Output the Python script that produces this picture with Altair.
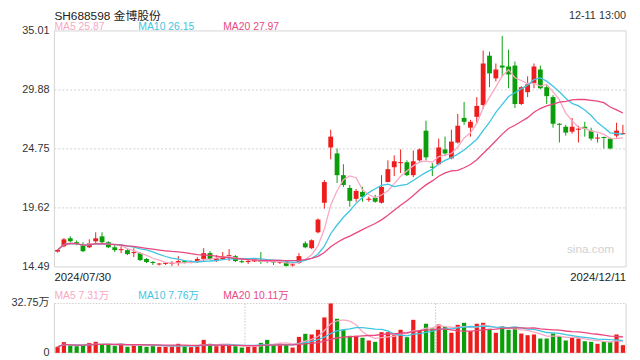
import altair as alt
import pandas as pd
import numpy as np

# ---------------- data ----------------
opens = [15.82, 16.29, 16.98, 16.64, 16.38, 16.20, 16.72, 17.15, 16.64, 16.20,
         15.95, 15.95, 15.69, 15.69, 15.18, 14.88, 14.70, 14.75, 14.75, 14.83,
         15.00, 14.88, 14.92, 15.18, 15.69, 15.00, 15.18, 15.43, 15.43, 14.95,
         14.92, 14.97, 15.09, 14.97, 15.00, 14.85, 14.92, 14.62, 14.83, 16.55,
         16.12, 17.50, 20.07, 24.88, 24.36, 22.47, 21.36, 20.41, 21.01, 20.33,
         20.50, 20.07, 21.87, 23.16, 23.51, 23.59, 22.47, 23.76, 26.34, 23.20,
         23.42, 24.71, 23.93, 25.31, 27.45, 26.60, 27.54, 28.57, 32.86, 30.89,
         32.00, 31.92, 32.00, 28.66, 29.69, 30.46, 31.66, 30.12, 29.26, 26.94,
         26.68, 26.25, 26.42, 26.68, 26.34, 25.65, 25.78, 25.65, 25.91, 26.03]
closes = [15.97, 16.89, 16.72, 16.46, 15.86, 16.55, 16.98, 16.64, 16.20, 15.95,
          16.04, 15.61, 15.78, 15.09, 14.92, 14.83, 14.75, 14.80, 14.80, 15.00,
          14.88, 14.95, 15.18, 15.69, 15.18, 15.26, 15.43, 15.50, 15.00, 14.90,
          14.97, 15.13, 14.92, 14.92, 14.88, 14.90, 14.58, 14.68, 15.43, 16.20,
          16.81, 18.61, 21.87, 25.82, 22.47, 21.62, 20.24, 21.10, 20.59, 20.41,
          20.16, 21.45, 22.99, 23.68, 23.59, 22.47, 23.68, 24.71, 24.02, 23.12,
          24.88, 24.36, 25.39, 26.77, 27.11, 27.11, 28.49, 32.18, 31.32, 31.66,
          31.83, 31.23, 28.66, 30.12, 30.37, 31.92, 30.03, 29.34, 26.94, 26.85,
          26.17, 26.68, 26.50, 26.51, 25.65, 25.74, 25.70, 24.79, 26.34, 26.10]
highs = [16.05, 17.00, 17.15, 16.80, 16.64, 16.89, 17.50, 17.50, 16.72, 16.38,
         16.29, 16.04, 16.12, 15.78, 15.26, 15.00, 14.83, 14.92, 15.00, 15.43,
         15.05, 15.05, 15.35, 16.12, 15.86, 15.52, 15.78, 16.04, 15.52, 15.09,
         15.26, 15.26, 15.78, 15.09, 15.05, 15.05, 15.00, 14.75, 15.69, 16.72,
         16.89, 18.70, 22.05, 26.42, 24.79, 23.42, 21.62, 21.27, 21.45, 20.59,
         20.76, 22.47, 23.76, 24.19, 24.71, 23.76, 24.62, 24.79, 27.20, 23.51,
         25.65, 25.82, 26.42, 27.80, 28.83, 27.28, 29.26, 33.30, 33.21, 32.18,
         34.58, 33.38, 32.35, 30.20, 31.06, 32.18, 32.00, 30.29, 29.43, 27.00,
         26.85, 27.45, 26.77, 27.11, 26.60, 26.08, 25.82, 25.74, 27.03, 26.85]
lows = [15.75, 16.20, 16.64, 16.38, 15.78, 16.12, 16.46, 16.55, 16.12, 15.78,
        15.69, 15.52, 15.35, 15.00, 14.83, 14.66, 14.62, 14.66, 14.58, 14.60,
        14.80, 14.80, 14.83, 15.00, 15.09, 14.92, 15.09, 15.00, 14.92, 14.83,
        14.75, 14.92, 14.75, 14.83, 14.66, 14.75, 14.53, 14.53, 14.75, 16.12,
        16.04, 17.41, 19.56, 23.85, 21.79, 21.45, 19.73, 20.16, 20.16, 20.16,
        20.07, 20.00, 21.87, 22.39, 22.65, 22.39, 22.30, 23.59, 23.76, 22.39,
        23.33, 24.11, 23.85, 25.22, 26.85, 25.82, 27.03, 28.23, 30.12, 30.63,
        31.06, 30.03, 28.31, 28.57, 29.26, 30.03, 29.95, 28.66, 26.60, 25.31,
        25.91, 26.08, 25.31, 25.82, 25.48, 25.31, 24.79, 24.71, 25.74, 25.99]
volumes = [4.0, 7.1, 4.9, 4.4, 5.1, 6.6, 7.3, 5.5, 5.5, 4.6,
           6.0, 4.0, 5.3, 5.1, 4.0, 5.3, 4.0, 4.0, 4.6, 6.0,
           4.4, 3.8, 4.4, 8.6, 6.0, 4.4, 5.1, 5.1, 4.4, 3.5,
           4.0, 4.4, 6.6, 8.6, 5.5, 6.6, 5.5, 3.5, 10.6, 12.6,
           12.2, 15.3, 23.5, 32.75, 22.6, 15.0, 11.3, 11.3, 10.0, 8.2,
           7.3, 13.7, 13.7, 11.7, 15.3, 10.4, 21.9, 15.0, 19.3, 16.2,
           18.8, 17.3, 13.3, 18.6, 19.9, 14.4, 19.3, 19.9, 15.9, 13.3,
           17.7, 15.3, 17.0, 12.8, 11.7, 12.2, 9.5, 9.5, 12.8, 11.1,
           8.2, 10.0, 9.5, 7.7, 7.3, 6.0, 7.3, 7.3, 12.2, 5.1]

price_ticks = [35.01, 29.88, 24.75, 19.62, 14.49]
grid_ticks = [29.88, 24.75, 19.62]
vol_ticks = [32.75, 0.0]
vol_tick_labels = ["32.75万", "0"]
date_labels = ["2024/07/30", "2024/12/11"]
title_text = "SH688598 金博股份"
stamp_text = "12-11 13:00"
ma_names = ["MA5", "MA10", "MA20"]
ma_price_vals = ["25.87", "26.15", "27.97"]
ma_vol_vals = ["7.31万", "7.76万", "10.11万"]

# ---------------- layout (page has an 8px margin) ----------------
OFF = 8
def px(v):
    return v - OFF

PL, PR = px(55), px(634)
PT, PB = px(29), px(268)
VT, VB = px(305), px(355)

RED = "#ee1d1d"
GREEN = "#0a9e0a"
MA_COLORS = ["#f9a8c4", "#3fc5e2", "#e9487f"]
FONT = "Liberation Sans, Noto Sans CJK SC"

n = len(closes)
df = pd.DataFrame(dict(i=np.arange(n), open=opens, close=closes, high=highs, low=lows, vol=volumes))
df["dir"] = np.where(df["close"] >= df["open"], "up", "down")
df["bbot"] = df[["open", "close"]].min(axis=1)
df["btop"] = np.maximum(df[["open", "close"]].max(axis=1), df["bbot"] + 0.09)
df["xa"] = df["i"] - 0.38
df["xb"] = df["i"] + 0.38
df["va"] = df["i"] - 0.33
df["vb"] = df["i"] + 0.33
df["zero"] = 0.0
for w, name in zip((5, 10, 20), ma_names):
    df[name] = df["close"].rolling(w, min_periods=1).mean()
    df["V" + name] = df["vol"].rolling(w, min_periods=1).mean()

xs = alt.Scale(domain=[-0.5, n - 0.5], range=[PL, PR])
ps = alt.Scale(domain=[price_ticks[-1], price_ticks[0]], range=[PB, PT])
vs = alt.Scale(domain=[0, vol_ticks[0]], range=[VB, VT])
dir_color = alt.Color("dir:N", scale=alt.Scale(domain=["up", "down"], range=[RED, GREEN]), legend=None)

one = pd.DataFrame({"a": [0]})

# frames
main_box = alt.Chart(one).mark_rect(fill=None, stroke="#d4d4d4", strokeWidth=1).encode(
    x=alt.value(PL), x2=alt.value(PR), y=alt.value(PT), y2=alt.value(PB))
grid = alt.Chart(pd.DataFrame({"v": grid_ticks})).mark_rule(
    color="#dcdcdc", strokeDash=[2, 2], strokeWidth=1.2).encode(
    y=alt.Y("v:Q", scale=ps, axis=None), x=alt.value(PL), x2=alt.value(PR))

vol_top = alt.Chart(one).mark_rule(color="#d0d0d0", strokeDash=[1.5, 1.5], strokeWidth=1.2).encode(
    x=alt.value(PL), x2=alt.value(PR), y=alt.value(VT))
vol_left = alt.Chart(one).mark_rule(color="#d0d0d0", strokeWidth=1).encode(
    x=alt.value(PL), y=alt.value(VT), y2=alt.value(VB))
vol_right = alt.Chart(one).mark_rule(color="#d0d0d0", strokeWidth=1).encode(
    x=alt.value(PR), y=alt.value(VT), y2=alt.value(VB))
vol_bottom = alt.Chart(one).mark_rule(color="#d0d0d0", strokeWidth=1).encode(
    x=alt.value(PL), x2=alt.value(PR), y=alt.value(VB))
vsep = alt.Chart(pd.DataFrame({"s": [(n / 3) - 0.5, (2 * n / 3) - 0.5]})).mark_rule(
    color="#d0d0d0", strokeDash=[1.5, 1.5], strokeWidth=1.2).encode(
    x=alt.X("s:Q", scale=xs, axis=None), y=alt.value(VT), y2=alt.value(VB))

base = alt.Chart(df)
wicks = base.mark_rule(strokeWidth=1).encode(
    x=alt.X("i:Q", scale=xs, axis=None),
    y=alt.Y("low:Q", scale=ps, axis=None), y2="high:Q", color=dir_color)
bodies = base.mark_rect().encode(
    x=alt.X("xa:Q", scale=xs, axis=None), x2="xb:Q",
    y=alt.Y("bbot:Q", scale=ps, axis=None), y2="btop:Q", color=dir_color)

ma_long = df.melt(id_vars="i", value_vars=ma_names, var_name="ma", value_name="val")
ma_lines = alt.Chart(ma_long).mark_line(strokeWidth=1.3).encode(
    x=alt.X("i:Q", scale=xs, axis=None),
    y=alt.Y("val:Q", scale=ps, axis=None),
    color=alt.Color("ma:N", scale=alt.Scale(domain=ma_names, range=MA_COLORS), legend=None),
    detail="ma:N")

vbars = base.mark_rect().encode(
    x=alt.X("va:Q", scale=xs, axis=None), x2="vb:Q",
    y=alt.Y("vol:Q", scale=vs, axis=None), y2="zero:Q", color=dir_color)
vma_long = df.melt(id_vars="i", value_vars=["V" + m for m in ma_names], var_name="ma", value_name="val")
vma_lines = alt.Chart(vma_long).mark_line(strokeWidth=1.3).encode(
    x=alt.X("i:Q", scale=xs, axis=None),
    y=alt.Y("val:Q", scale=vs, axis=None),
    color=alt.Color("ma:N", scale=alt.Scale(domain=["V" + m for m in ma_names], range=MA_COLORS), legend=None),
    detail="ma:N")

# axis labels
ptl = pd.DataFrame({"v": price_ticks, "t": [f"{v:.2f}" for v in price_ticks],
                    "dy": [6, 0, 0, 0, -6]})
plabels = alt.Chart(ptl).mark_text(align="right", baseline="middle", font=FONT, fontSize=11,
                                   color="#333333").encode(
    x=alt.value(px(50)), y=alt.Y("v:Q", scale=ps, axis=None), text="t:N", yOffset="dy:Q")
vtl = pd.DataFrame({"v": vol_ticks, "t": vol_tick_labels, "dy": [6, -7]})
vlabels = alt.Chart(vtl).mark_text(align="right", baseline="middle", font=FONT, fontSize=11,
                                   color="#333333").encode(
    x=alt.value(px(50)), y=alt.Y("v:Q", scale=vs, axis=None), text="t:N", yOffset="dy:Q")

def txt(text, x, y, size=11, color="#333333", align="left"):
    return alt.Chart(pd.DataFrame({"t": [text]})).mark_text(
        align=align, baseline="middle", font=FONT, fontSize=size, color=color).encode(
        x=alt.value(px(x)), y=alt.value(px(y)), text="t:N")

texts = [
    txt(title_text, 55, 13.5, size=12, color="#222222"),
    txt(stamp_text, 634, 13.5, size=11, color="#333333", align="right"),
    txt(date_labels[0], 55, 279, size=11.5, color="#222222"),
    txt(date_labels[1], 634, 279, size=11.5, color="#222222", align="right"),
    txt("sina.com", 622, 250, size=12, color="#d2d2d2", align="right"),
]
for k, (nm, pv, vv) in enumerate(zip(ma_names, ma_price_vals, ma_vol_vals)):
    xk = [55, 140, 226][k]
    texts.append(txt(f"{nm} {pv}", xk, 25.5, size=10.5, color=MA_COLORS[k]))
    texts.append(txt(f"{nm} {vv}", xk, 297, size=10.5, color=MA_COLORS[k]))

chart = alt.layer(
    grid, main_box, vol_top, vol_left, vol_right, vol_bottom, vsep,
    wicks, bodies, ma_lines, vbars, vma_lines, plabels, vlabels, *texts
).resolve_scale(y="independent", color="independent").properties(
    width=632, height=352, autosize=alt.AutoSizeParams(type="none"), padding=0,
    background="white"
).configure_view(stroke=None)

chart.save("out.html", embed_options={"renderer": "svg", "actions": False})
